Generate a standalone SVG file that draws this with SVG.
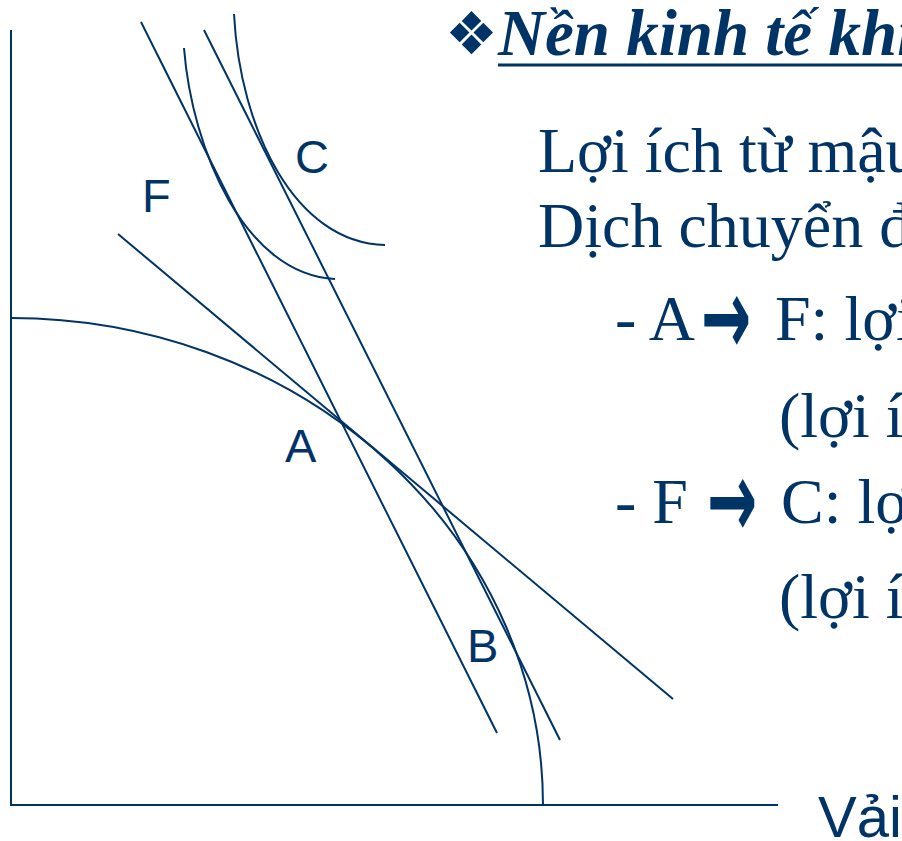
<svg xmlns="http://www.w3.org/2000/svg" width="902" height="841" viewBox="0 0 902 841">
<style>
.ln{fill:none;stroke:#003366;stroke-width:2}
.lbl{font-family:"Liberation Sans",Arial,sans-serif;font-size:47px;fill:#003366}
.tx{font-family:"Liberation Serif","Times New Roman",serif;font-size:64px;fill:#003366}
.arr{font-family:"DejaVu Sans",sans-serif;font-weight:bold;font-size:60px;fill:#003366}
</style>
<rect width="902" height="841" fill="#ffffff"/>
<g id="axes">
<line class="ln" x1="11" y1="30" x2="11" y2="806"/>
<line class="ln" x1="10" y1="805" x2="778" y2="805"/>
</g>
<g id="connectors">
<path id="ppf" class="ln" d="M11,318 A532,487 0 0 1 543,805"/>
<line id="price1" class="ln" x1="118" y1="234" x2="673" y2="699"/>
<line id="price2" class="ln" x1="141" y1="22" x2="497" y2="733"/>
<line id="price3" class="ln" x1="204" y1="30" x2="560" y2="740"/>
<path id="icF" class="ln" d="M184,48 C192,150 245,275 335,279"/>
<path id="icC" class="ln" d="M234,14 C240,130 295,243 385,245"/>
</g>
<g id="node-C"><text class="lbl" x="295" y="173">C</text></g>
<g id="node-F"><text class="lbl" x="142" y="212">F</text></g>
<g id="node-A"><text class="lbl" x="285" y="462">A</text></g>
<g id="node-B"><text class="lbl" x="467" y="662">B</text></g>
<g id="axis-label"><text class="lbl" style="font-size:58px" x="818" y="837">Vải</text></g>
<g id="title">
<text x="445" y="54" style="font-family:'DejaVu Sans',sans-serif;font-size:59px;fill:#003366">❖</text>
<text x="498" y="55" style="font-family:'Liberation Serif','Times New Roman',serif;font-size:65px;font-weight:bold;font-style:italic;fill:#003366">Nền kinh tế khi</text>
<line x1="498" y1="65" x2="902" y2="65" stroke="#003366" stroke-width="3"/>
</g>
<g id="body">
<text class="tx" x="538" y="172">Lợi ích từ mậu</text>
<text class="tx" x="538" y="247">Dịch chuyển đ</text>
<text class="tx" x="615" y="340">- A</text>
<text class="arr" transform="translate(701,318) scale(1,1.8)" x="0" y="20">→</text>
<text class="tx" x="775" y="340">F: lợi</text>
<text class="tx" x="779" y="437">(lợi í</text>
<text class="tx" x="615" y="523">- F</text>
<text class="arr" transform="translate(707,501) scale(1,1.8)" x="0" y="20">→</text>
<text class="tx" x="781" y="523">C: lợi</text>
<text class="tx" x="779" y="618">(lợi í</text>
</g>
</svg>
